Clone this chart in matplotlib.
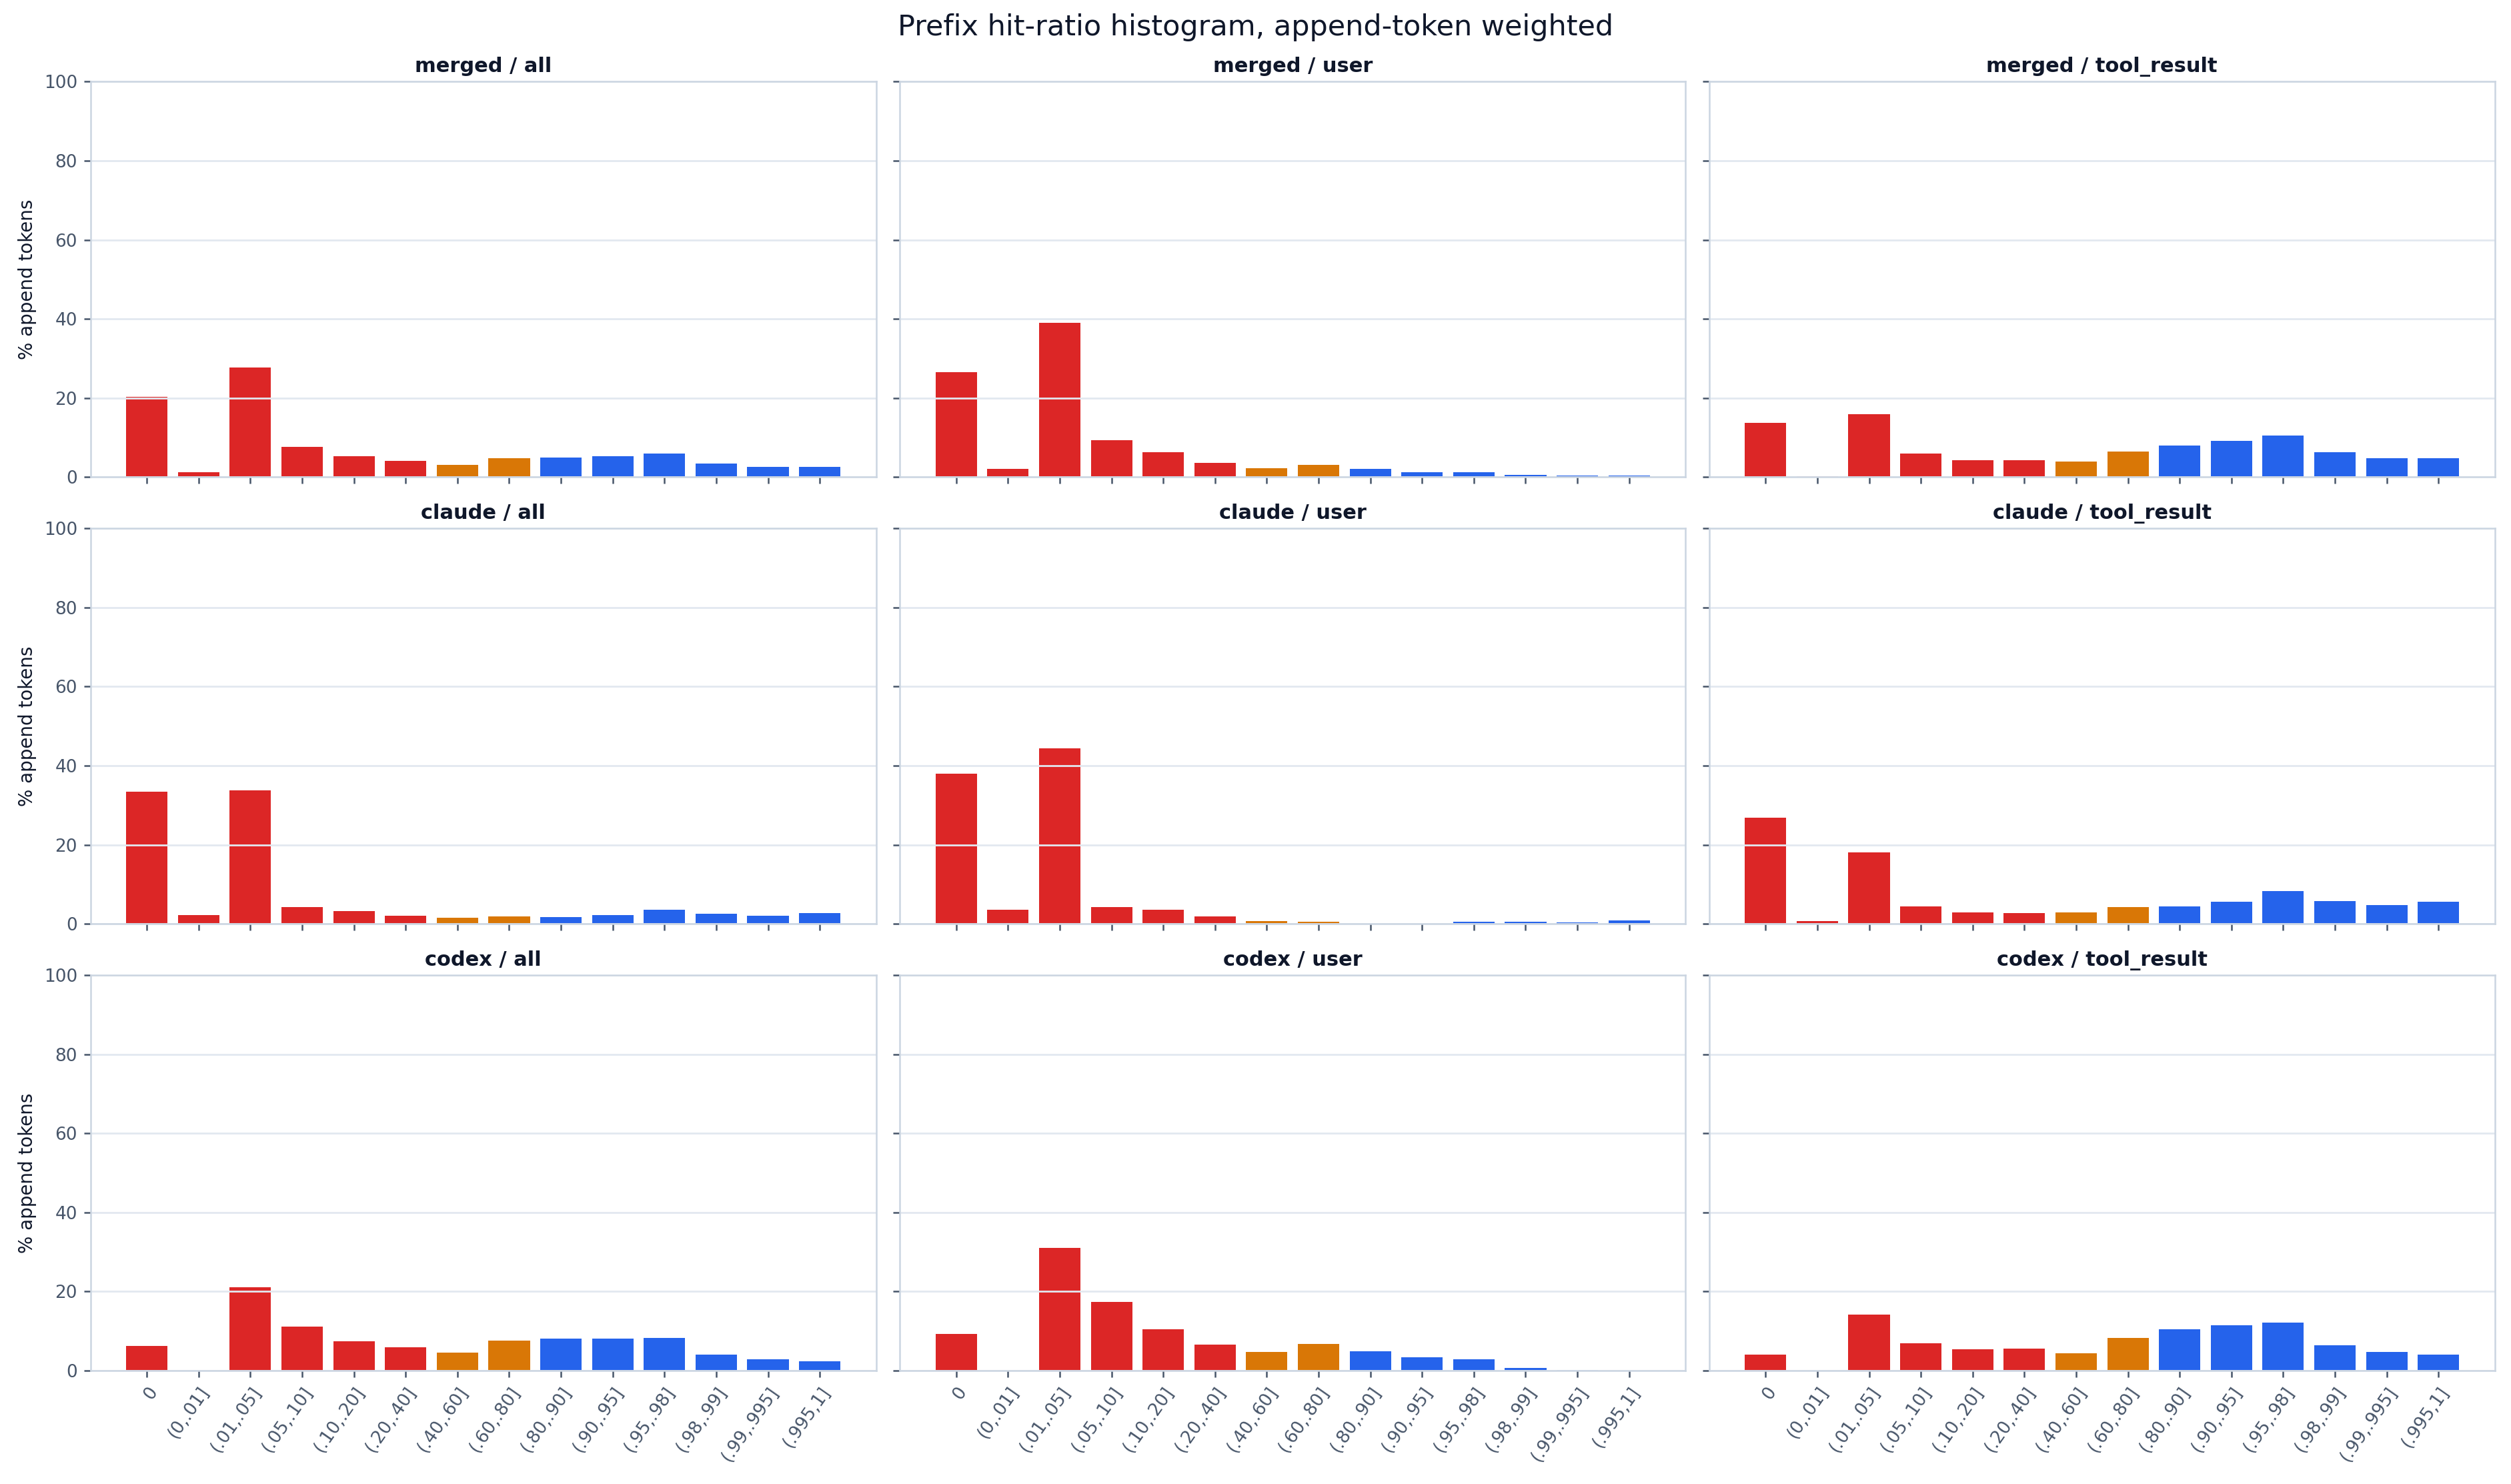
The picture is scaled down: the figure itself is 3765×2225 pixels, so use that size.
import matplotlib.pyplot as plt

# Hit-ratio bins (x axis)
bins = ['0', '(0,.01]', '(.01,.05]', '(.05,.10]', '(.10,.20]', '(.20,.40]', '(.40,.60]',
        '(.60,.80]', '(.80,.90]', '(.90,.95]', '(.95,.98]', '(.98,.99]', '(.99,.995]', '(.995,1]']

# Bar colour group per bin: low / mid / high hit ratio
bin_group = ['low'] * 6 + ['mid'] * 2 + ['high'] * 6
group_color = {'low': '#dc2626', 'mid': '#d97706', 'high': '#2563eb'}

sources = ['merged', 'claude', 'codex']
kinds = ['all', 'user', 'tool_result']

# % of append tokens per bin
merged_all = [20.2, 1.2, 27.7, 7.6, 5.2, 4.0, 3.0, 4.75, 4.9, 5.2, 5.9, 3.4, 2.5, 2.5]
merged_user = [26.5, 2.0, 39.0, 9.25, 6.2, 3.5, 2.2, 3.0, 2.05, 1.3, 1.3, 0.5, 0.3, 0.3]
merged_tool = [13.7, 0.25, 15.9, 5.9, 4.3, 4.3, 3.85, 6.4, 7.9, 9.1, 10.5, 6.2, 4.75, 4.75]

claude_all = [33.5, 2.25, 33.7, 4.3, 3.3, 2.1, 1.6, 1.9, 1.75, 2.25, 3.6, 2.6, 2.1, 2.75]
claude_user = [38.0, 3.55, 44.4, 4.2, 3.55, 1.85, 0.7, 0.5, 0.0, 0.0, 0.5, 0.5, 0.3, 0.85]
claude_tool = [26.9, 0.7, 18.1, 4.45, 2.9, 2.75, 2.9, 4.3, 4.45, 5.6, 8.3, 5.8, 4.8, 5.6]

codex_all = [6.3, 0.0, 21.1, 11.2, 7.5, 5.95, 4.6, 7.65, 8.15, 8.15, 8.3, 4.1, 2.9, 2.4]
codex_user = [9.35, 0.0, 31.0, 17.3, 10.5, 6.5, 4.8, 6.8, 4.95, 3.45, 2.9, 0.7, 0.2, 0.0]
codex_tool = [4.1, 0.0, 14.25, 7.0, 5.45, 5.6, 4.4, 8.2, 10.5, 11.55, 12.2, 6.4, 4.8, 4.1]

values = [[merged_all, merged_user, merged_tool],
          [claude_all, claude_user, claude_tool],
          [codex_all, codex_user, codex_tool]]

TEXT = '#0f172a'
MUTED = '#475569'
SPINE = '#cbd5e1'
GRID = '#e2e8f0'

fig, axes = plt.subplots(3, 3, figsize=(18.825, 11.125), dpi=200, sharex=True, sharey=True)
fig.subplots_adjust(left=0.036, right=0.9936, top=0.945, bottom=0.0764, wspace=0.03, hspace=0.13)

colors = [group_color[g] for g in bin_group]
x = list(range(len(bins)))

for r, src in enumerate(sources):
    for c, kind in enumerate(kinds):
        ax = axes[r][c]
        ax.bar(x, values[r][c], width=0.8, color=colors)
        ax.set_title(f'{src} / {kind}', fontsize=11, fontweight='bold', color=TEXT, pad=5)
        ax.set_ylim(0, 100)
        ax.set_yticks([0, 20, 40, 60, 80, 100])
        ax.grid(axis='y', color=GRID, linewidth=1.0)
        for sp in ax.spines.values():
            sp.set_color(SPINE)
            sp.set_linewidth(0.9)
        ax.tick_params(colors=MUTED, labelsize=9.5, length=3.5, width=0.9)
        if c == 0:
            ax.set_ylabel('% append tokens', fontsize=10, color=TEXT)
        if r == 2:
            ax.set_xticks(x)
            ax.set_xticklabels(bins, rotation=55, ha='right', rotation_mode='anchor', fontsize=9.5)

fig.suptitle('Prefix hit-ratio histogram, append-token weighted', fontsize=15.5, color=TEXT, y=0.991)

plt.savefig('out.png', dpi=200)
